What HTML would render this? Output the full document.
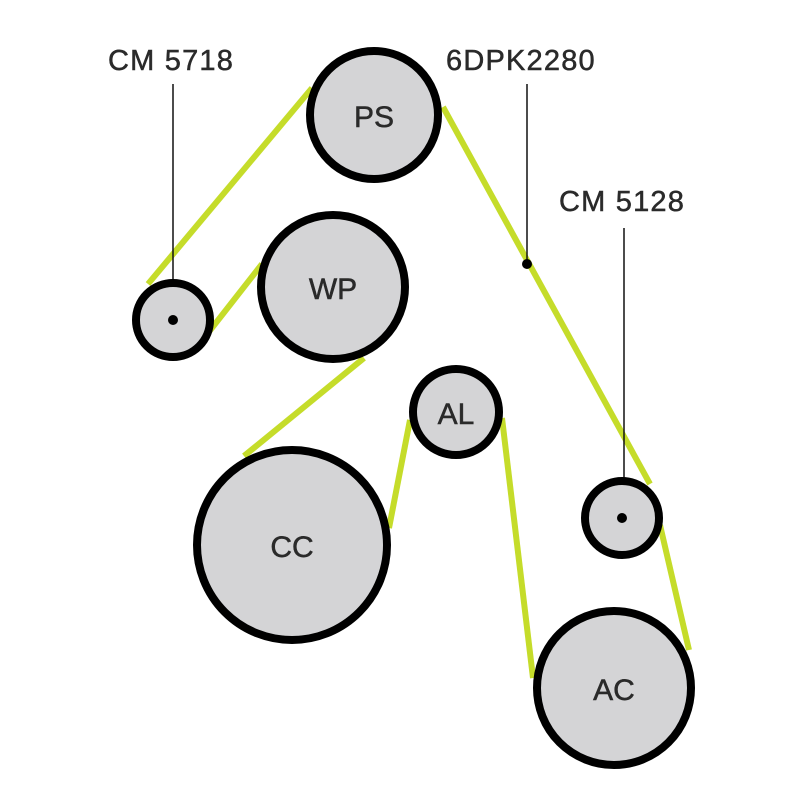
<!DOCTYPE html>
<html><head><style>
html,body{margin:0;padding:0;background:#fff;}
svg{display:block;}
text{font-family:"Liberation Sans",sans-serif;fill:#2a2a2a;stroke:#2a2a2a;stroke-width:0.5px;}
</style></head><body>
<svg width="800" height="800" viewBox="0 0 800 800" xmlns="http://www.w3.org/2000/svg">
<g stroke="#c5dc2a" stroke-width="6" fill="none" stroke-linecap="butt">
<line x1="312" y1="88" x2="148" y2="284"/>
<line x1="208" y1="333" x2="262" y2="264"/>
<line x1="364" y1="358" x2="244" y2="456"/>
<line x1="389" y1="528" x2="410" y2="420"/>
<line x1="502" y1="418" x2="533" y2="678"/>
<line x1="443" y1="107" x2="650" y2="484"/>
<line x1="660" y1="525" x2="689" y2="650"/>
</g>
<g stroke="#111" stroke-width="1.5">
<line x1="173" y1="84" x2="173" y2="320"/>
<line x1="527" y1="84" x2="527" y2="264"/>
<line x1="624" y1="228" x2="624" y2="517"/>
</g>
<g fill="#d4d4d6" stroke="#000" stroke-width="8">
<circle cx="374" cy="115" r="64"/>
<circle cx="333" cy="287" r="72"/>
<circle cx="173" cy="320" r="37"/>
<circle cx="456" cy="412" r="43"/>
<circle cx="292" cy="545" r="95"/>
<circle cx="622" cy="518" r="37"/>
<circle cx="614" cy="688" r="77"/>
</g>
<g fill="#000">
<circle cx="173" cy="320" r="5"/>
<circle cx="527" cy="264" r="5"/>
<circle cx="622" cy="518" r="5"/>
</g>
<g font-size="30" text-anchor="middle">
<text x="374" y="127">PS</text>
<text x="333" y="299">WP</text>
<text x="456" y="424">AL</text>
<text x="292" y="557">CC</text>
<text x="614" y="700">AC</text>
</g>
<g font-size="29" letter-spacing="1.2">
<text x="108" y="70">CM 5718</text>
<text x="446" y="70">6DPK2280</text>
<text x="559" y="211">CM 5128</text>
</g>
</svg>
</body></html>
